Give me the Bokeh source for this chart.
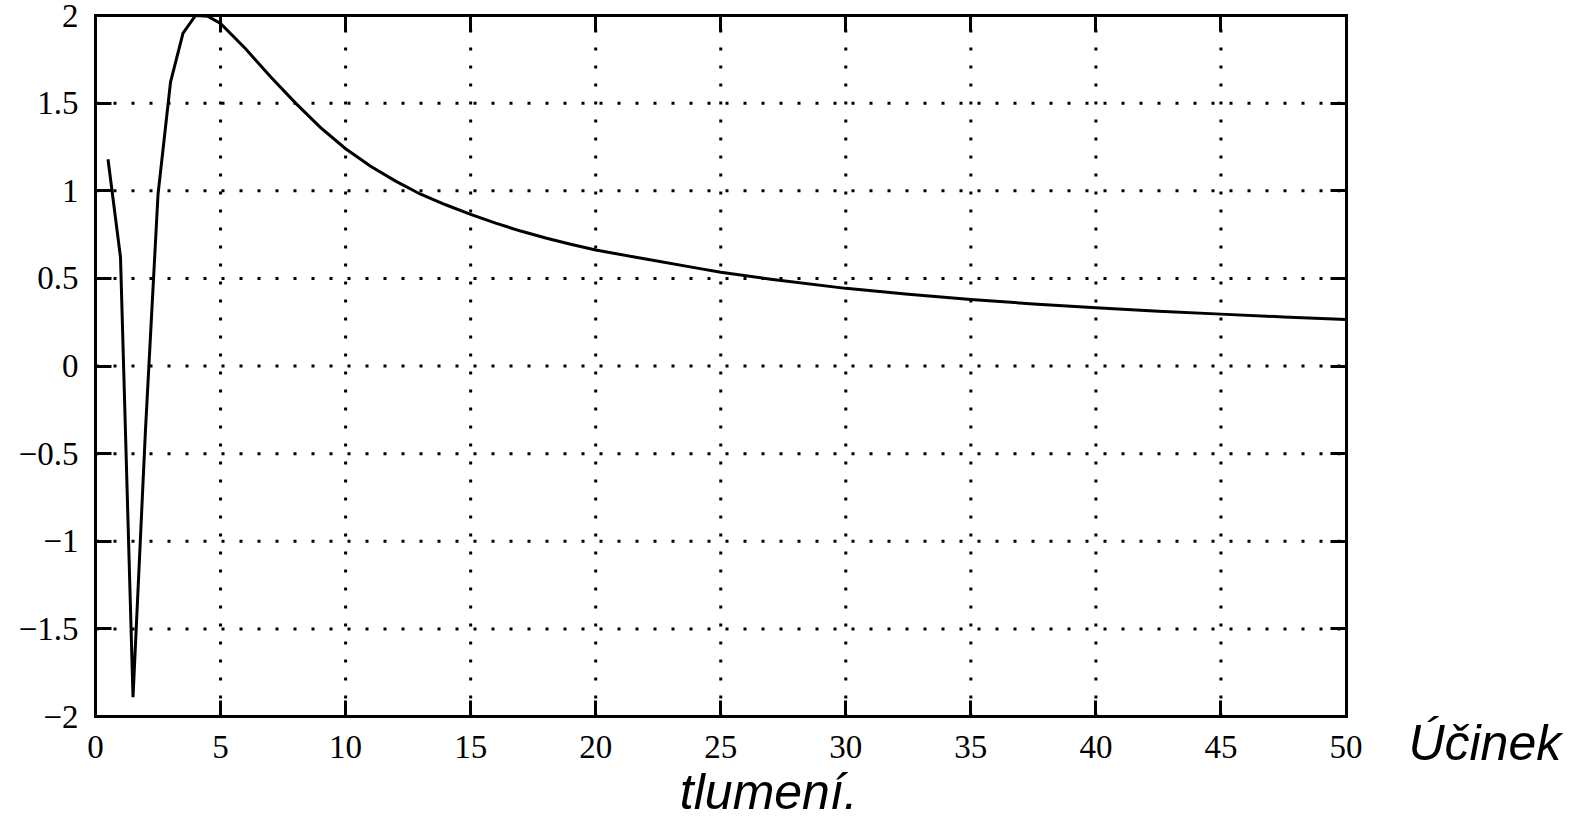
from bokeh.plotting import figure
from bokeh.models import Range1d, LinearAxis, FixedTicker
from bokeh.embed import file_html
from bokeh.resources import INLINE

# ---- data ----
x_vals = [0.5, 1.0, 1.5, 2.0, 2.5, 3.0, 3.5, 4.0, 4.5, 5.0,
          6, 7, 8, 9, 10, 11, 12, 13, 14, 15,
          16, 17, 18, 19, 20, 22, 24, 25, 27, 30,
          32.5, 35, 37.5, 40, 42.5, 45, 47.5, 50]
y_vals = [1.18, 0.62, -1.89, -0.36, 0.98, 1.62, 1.90, 2.0, 1.995, 1.955,
          1.81, 1.65, 1.50, 1.36, 1.24, 1.14, 1.055, 0.98, 0.92, 0.865,
          0.815, 0.77, 0.73, 0.695, 0.662, 0.61, 0.56, 0.535, 0.495, 0.443,
          0.41, 0.38, 0.354, 0.332, 0.313, 0.296, 0.28, 0.266]

x_ticks = [0, 5, 10, 15, 20, 25, 30, 35, 40, 45, 50]
y_ticks = [-2, -1.5, -1, -0.5, 0, 0.5, 1, 1.5, 2]
y_tick_labels = ["\u22122", "\u22121.5", "\u22121", "\u22120.5", "0", "0.5", "1", "1.5", "2"]
x_tick_labels = ["0", "5", "10", "15", "20", "25", "30", "35", "40", "45", "50"]
label_word1 = "\u00da\u010dinek"
label_word2 = "tlumen\u00ed."

X_MIN, X_MAX = 0, 50
Y_MIN, Y_MAX = -2, 2

serif = "Liberation Serif"
sans = "Liberation Sans"
LABEL_SIZE = "50px"

# ---- layout geometry (pixels) ----
W, H = 1573, 836
LEFT, TOP = 95, 15
RIGHT_BORDER, BOTTOM_BORDER = 4, 120
BOX_RIGHT_PX = 1345.5
frame_w = W - LEFT - RIGHT_BORDER
px_x = (BOX_RIGHT_PX - LEFT) / (X_MAX - X_MIN)
x_end = X_MIN + frame_w / px_x

p = figure(width=W, height=H, output_backend="svg", toolbar_location=None,
           x_range=Range1d(X_MIN, x_end), y_range=Range1d(Y_MIN, Y_MAX),
           min_border_left=LEFT, min_border_right=RIGHT_BORDER, min_border_top=TOP,
           min_border_bottom=BOTTOM_BORDER,
           x_axis_type=None, y_axis_type=None)
p.background_fill_color = "white"
p.border_fill_color = "white"
p.outline_line_color = None


def tick_axis(ticks, bounds, labels=None, fixed=None):
    ax = LinearAxis(ticker=FixedTicker(ticks=ticks), bounds=bounds)
    if fixed is not None:
        ax.fixed_location = fixed
    ax.major_tick_in = 16
    ax.major_tick_out = 0
    ax.minor_tick_in = 0
    ax.minor_tick_out = 0
    ax.major_tick_line_width = 3
    ax.major_tick_line_color = "black"
    ax.axis_line_width = 3
    ax.axis_line_color = "black"
    ax.axis_line_cap = "square"
    if labels is not None:
        ax.major_label_overrides = {t: l for t, l in zip(ticks, labels)}
        ax.major_label_text_font = serif
        ax.major_label_text_font_size = "33px"
        ax.major_label_text_color = "black"
    else:
        ax.major_label_text_font_size = "0px"
        ax.major_label_text_color = None
        ax.major_label_text_alpha = 0
        ax.major_label_standoff = 0
    return ax


def word_axis(pos, text, standoff):
    ax = LinearAxis(ticker=FixedTicker(ticks=[pos]))
    ax.major_label_overrides = {pos: text}
    ax.axis_line_color = None
    ax.major_tick_line_color = None
    ax.minor_tick_line_color = None
    ax.major_tick_in = 0
    ax.major_tick_out = 0
    ax.minor_tick_in = 0
    ax.minor_tick_out = 0
    ax.major_label_text_font = sans
    ax.major_label_text_font_style = "italic"
    ax.major_label_text_font_size = LABEL_SIZE
    ax.major_label_text_color = "black"
    ax.major_label_standoff = standoff
    return ax


# box edges with inward ticks on all four sides
xb = tick_axis(x_ticks, (X_MIN, X_MAX), x_tick_labels)
xb.major_label_standoff = 19
p.add_layout(xb, "below")

yl = tick_axis(y_ticks, (Y_MIN, Y_MAX), y_tick_labels)
yl.major_label_standoff = 17
p.add_layout(yl, "left")

p.add_layout(tick_axis(x_ticks, (X_MIN, X_MAX)), "above")
p.add_layout(tick_axis(y_ticks, (Y_MIN, Y_MAX), fixed=X_MAX), "right")

# x label "Účinek tlumení." wrapped as in the reference
p.add_layout(word_axis(55.55, label_word1, -46), "below")
p.add_layout(word_axis(26.92, label_word2, -10), "below")

# dotted grid, limited to the box
gx0 = [t for t in x_ticks if X_MIN < t < X_MAX]
gy0 = [t for t in y_ticks if Y_MIN < t < Y_MAX]
p.segment(x0=gx0, y0=[Y_MIN] * len(gx0), x1=gx0, y1=[Y_MAX] * len(gx0),
          line_color="black", line_width=3, line_dash="3 15")
p.segment(x0=[X_MIN] * len(gy0), y0=gy0, x1=[X_MAX] * len(gy0), y1=gy0,
          line_color="black", line_width=3, line_dash="3 15")

p.line(x_vals, y_vals, line_color="black", line_width=3, line_join="miter")

open("out.html", "w").write(file_html(p, INLINE))
